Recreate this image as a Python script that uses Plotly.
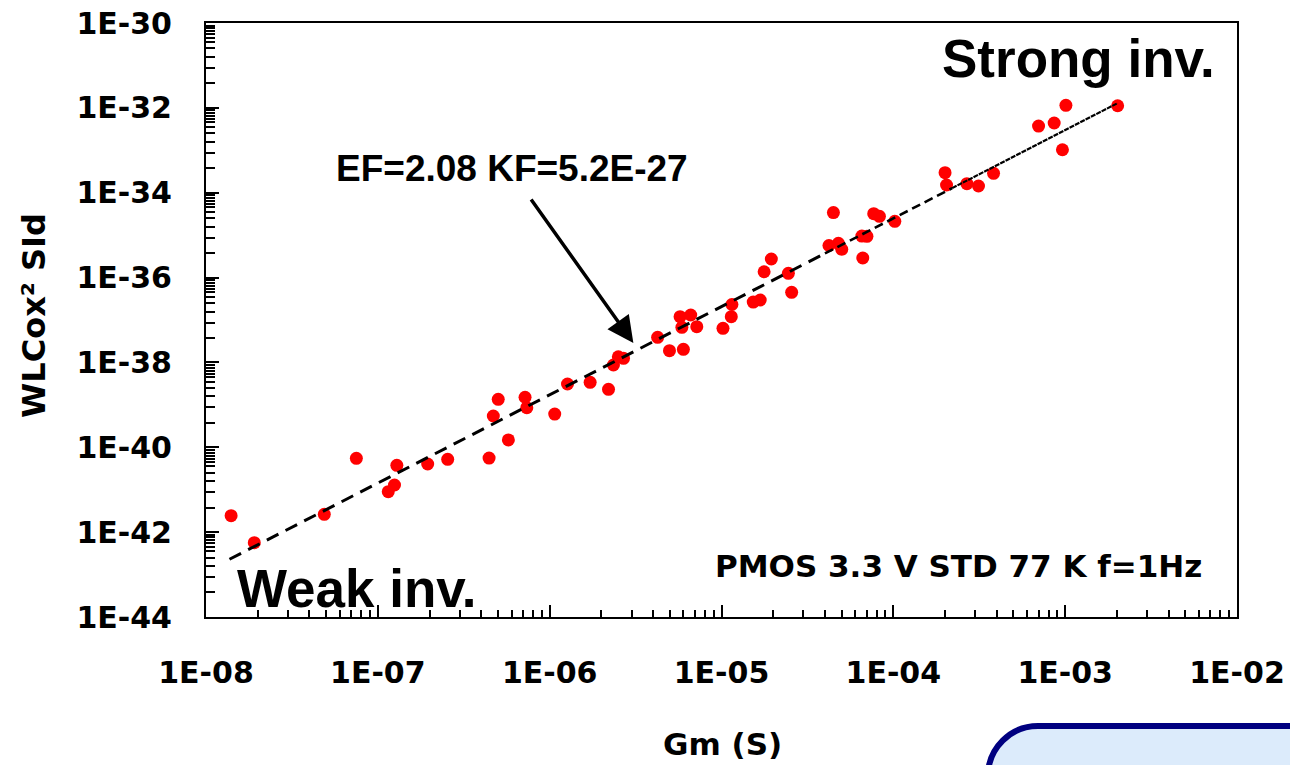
import numpy as np
import plotly.graph_objects as go

# Measured flicker-noise points: transconductance vs. normalised drain-current PSD
gm = [1.40e-8, 1.91e-8, 4.88e-8, 7.50e-8, 1.29e-7, 1.25e-7, 1.15e-7, 1.95e-7,
      2.55e-7, 4.44e-7, 4.70e-7, 5.02e-7, 5.75e-7, 7.19e-7, 7.36e-7, 1.07e-6,
      1.27e-6, 1.72e-6, 2.20e-6, 2.35e-6, 2.51e-6, 2.69e-6, 4.25e-6, 4.98e-6,
      6.00e-6, 5.74e-6, 6.62e-6, 5.88e-6, 7.18e-6, 1.02e-5, 1.14e-5, 1.15e-5,
      1.53e-5, 1.68e-5, 1.77e-5, 1.95e-5, 2.45e-5, 2.56e-5, 4.48e-5, 4.22e-5,
      4.79e-5, 5.01e-5, 6.64e-5, 6.56e-5, 7.02e-5, 7.69e-5, 8.30e-5, 1.02e-4,
      2.00e-4, 2.04e-4, 2.68e-4, 3.13e-4, 3.83e-4, 7.00e-4, 8.63e-4, 1.01e-3,
      9.64e-4, 2.02e-3]
sid = [2.44e-42, 5.64e-43, 2.63e-42, 5.50e-41, 3.76e-41, 1.29e-41, 8.97e-42, 4.04e-41,
       5.21e-41, 5.58e-41, 5.46e-40, 1.35e-39, 1.49e-40, 1.51e-39, 8.57e-40, 6.08e-40,
       3.10e-39, 3.40e-39, 2.32e-39, 8.69e-39, 1.36e-38, 1.25e-38, 3.91e-38, 1.89e-38,
       2.04e-38, 1.20e-37, 1.31e-37, 6.73e-38, 6.95e-38, 6.37e-38, 1.20e-37, 2.32e-37,
       2.65e-37, 2.96e-37, 1.37e-36, 2.74e-36, 1.26e-36, 4.50e-37, 3.41e-35, 5.70e-36,
       6.41e-36, 4.63e-36, 2.89e-36, 9.53e-36, 9.38e-36, 3.20e-35, 2.78e-35, 2.12e-35,
       2.96e-34, 1.52e-34, 1.63e-34, 1.44e-34, 2.86e-34, 3.73e-33, 4.40e-33, 1.15e-32,
       1.03e-33, 1.12e-32]

# Fitted flicker model  SId * WLCox^2 = KF * Gm^EF  (f = 1 Hz)
EF = 2.08
KF = 5.2e-27
fit_segments = [(1.37e-8, 4.0e-5), (4.0e-5, 2.2e-4), (2.2e-4, 2.02e-3)]

x_tickvals = [1e-8, 1e-7, 1e-6, 1e-5, 1e-4, 1e-3, 1e-2]
x_ticktext = ["1E-08", "1E-07", "1E-06", "1E-05", "1E-04", "1E-03", "1E-02"]
y_tickvals = [1e-44, 1e-42, 1e-40, 1e-38, 1e-36, 1e-34, 1e-32, 1e-30]
y_ticktext = ["1E-44", "1E-42", "1E-40", "1E-38", "1E-36", "1E-34", "1E-32", "1E-30"]

fit_label = f"EF={EF} KF={KF:.1E}"

# ---- plot-area geometry (pixels) ----
W, H = 1290, 765
L, R, T, B = 206, 1237, 23, 617


def px_x(px):
    return (px - L) / (R - L)


def px_y(py):
    return (B - py) / (B - T)


chart_font = "DejaVu Sans"
slide_font = "Liberation Sans, Arial"

fig = go.Figure()

fig.add_trace(go.Scatter(
    x=gm, y=sid, mode="markers",
    marker=dict(color="#FF0000", size=13, line=dict(width=0)),
    showlegend=False, hoverinfo="x+y"))

dash_styles = [("13px,8px", 3), ("9px,5px", 2.6), ("5px,1px", 2.2)]
for (x0, x1), (dash, w) in zip(fit_segments, dash_styles):
    xs = np.array([x0, x1])
    fig.add_trace(go.Scatter(
        x=xs, y=KF * xs ** EF, mode="lines",
        line=dict(color="black", width=w, dash=dash),
        showlegend=False, hoverinfo="skip"))

x_minor = [k * 10.0 ** e for e in range(-8, -2) for k in range(2, 10)]
y_minor_offsets = [0.06, 0.125, 0.195, 0.265, 0.345, 0.45, 0.6, 0.8, 1.06, 1.42]
y_minor = [10.0 ** (e - d) for e in range(-30, -43, -2) for d in y_minor_offsets]

fig.update_xaxes(
    type="log", range=[-8, -2], showgrid=False, zeroline=False,
    showline=True, linecolor="black", linewidth=2, mirror=True,
    tickmode="array", tickvals=x_tickvals, ticktext=x_ticktext,
    ticks="inside", ticklen=12, tickwidth=2, tickcolor="black",
    ticklabelstandoff=28,
    tickfont=dict(family=chart_font, size=30, color="black", weight="bold"),
    minor=dict(tickmode="array", tickvals=x_minor, ticks="inside",
               ticklen=7, tickwidth=2, tickcolor="black", showgrid=False),
    automargin=False)

fig.update_yaxes(
    type="log", range=[-44, -30], showgrid=False, zeroline=False,
    showline=True, linecolor="black", linewidth=2, mirror=True,
    tickmode="array", tickvals=y_tickvals, ticktext=y_ticktext,
    ticks="inside", ticklen=13, tickwidth=2, tickcolor="black",
    ticklabelstandoff=26,
    tickfont=dict(family=chart_font, size=30, color="black", weight="bold"),
    minor=dict(tickmode="array", tickvals=y_minor, ticks="inside",
               ticklen=9, tickwidth=2, tickcolor="black", showgrid=False),
    automargin=False)

annotations = [
    dict(text="WLCox² SId", textangle=-90, x=px_x(34), y=px_y(316),
         font=dict(family=chart_font, size=32, color="black", weight="bold")),
    dict(text="Gm (S)", x=px_x(722), y=px_y(744),
         font=dict(family=chart_font, size=31, color="black", weight="bold")),
    dict(text="PMOS 3.3 V STD 77 K f=1Hz", x=px_x(958), y=px_y(566),
         font=dict(family=chart_font, size=31, color="black", weight="bold")),
    dict(text="<b>Strong inv.</b>", x=px_x(1078), y=px_y(58),
         font=dict(family=slide_font, size=53, color="black")),
    dict(text="<b>Weak inv.</b>", x=px_x(357), y=px_y(588),
         font=dict(family=slide_font, size=53, color="black")),
    dict(text="<b>" + fit_label + "</b>", x=px_x(512), y=px_y(168),
         font=dict(family=slide_font, size=37, color="black")),
]
for a in annotations:
    a.update(xref="paper", yref="paper", showarrow=False,
             xanchor="center", yanchor="middle")

# arrow pointing at the fitted line
arrow_tip = (3.07e-6, 2.87e-38)
arrow_tail = (7.69e-7, 7.5e-35)
annotations.append(dict(
    x=np.log10(arrow_tip[0]), y=np.log10(arrow_tip[1]),
    ax=np.log10(arrow_tail[0]), ay=np.log10(arrow_tail[1]),
    xref="x", yref="y", axref="x", ayref="y", text="",
    showarrow=True, arrowhead=2, arrowsize=1.5, arrowwidth=3.5,
    arrowcolor="black", standoff=0, startstandoff=0))

# rounded slide box peeking in at the bottom right
cx, cy, r = 1038, 776, 50
k = 0.5523 * r
pts = [(cx - r, 810), (cx - r, cy), (cx - r, cy - k), (cx - k, cy - r), (cx, cy - r),
       (1320, cy - r), (1320, 810)]
P = [(px_x(a), px_y(b)) for a, b in pts]
path = (f"M {P[0][0]},{P[0][1]} L {P[1][0]},{P[1][1]} "
        f"C {P[2][0]},{P[2][1]} {P[3][0]},{P[3][1]} {P[4][0]},{P[4][1]} "
        f"L {P[5][0]},{P[5][1]} L {P[6][0]},{P[6][1]} Z")

fig.update_layout(
    template="none",
    width=W, height=H, autosize=False,
    margin=dict(l=L, r=W - R, t=T, b=H - B, pad=0),
    paper_bgcolor="white", plot_bgcolor="white",
    showlegend=False,
    annotations=annotations,
    shapes=[dict(type="path", xref="paper", yref="paper", path=path,
                 fillcolor="#DCEBFB", line=dict(color="#000080", width=6))],
)

fig.write_html("out.html")
